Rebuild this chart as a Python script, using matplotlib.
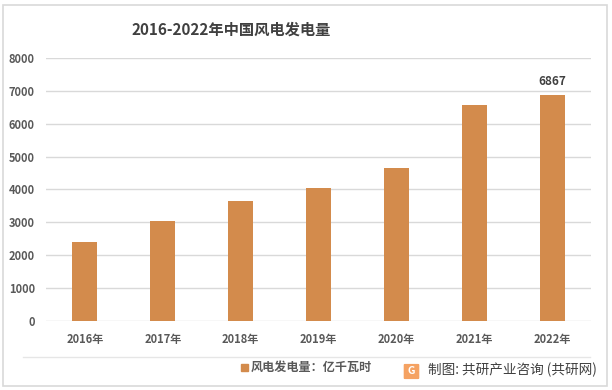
import matplotlib.pyplot as plt
from matplotlib.patches import Rectangle, FancyBboxPatch
from matplotlib.lines import Line2D

plt.rcParams['font.family'] = ['Noto Sans CJK SC', 'DejaVu Sans']

# 数据
years = ['2016年', '2017年', '2018年', '2019年', '2020年', '2021年', '2022年']
power = [2409, 3034, 3660, 4057, 4665, 6556, 6867]
yticks = [0, 1000, 2000, 3000, 4000, 5000, 6000, 7000, 8000]

bar_color = '#D38B4C'
text_color = '#595959'

W, H = 612, 390
fig = plt.figure(figsize=(W / 100, H / 100), dpi=100)
fig.patch.set_facecolor('white')

# 坐标区域(像素换算)
left, right, top, bottom = 46, 591, 58, 321
ax = fig.add_axes([left / W, 1 - bottom / H, (right - left) / W, (bottom - top) / H])

x = range(len(years))
ax.bar(x, power, width=0.32, color=bar_color, zorder=3)
ax.set_xlim(-0.5, len(years) - 0.5)
ax.set_ylim(0, 8000)
ax.set_yticks(yticks)
ax.set_xticks(list(x))
ax.set_xticklabels(years)
ax.grid(axis='y', color='#D9D9D9', linewidth=1, zorder=0)
for s in ax.spines.values():
    s.set_visible(False)
ax.tick_params(length=0)
ax.tick_params(axis='y', pad=8)
ax.tick_params(axis='x', pad=9)
for lab in ax.get_xticklabels() + ax.get_yticklabels():
    lab.set_fontsize(8)
    lab.set_fontweight('bold')
    lab.set_color(text_color)

# 最后一个柱子的数值标签
ax.annotate(f'{power[-1]}', (x[-1], power[-1]), xytext=(0, 5),
            textcoords='offset points', ha='center', va='bottom',
            fontsize=8.5, fontweight='bold', color='#404040')

# 标题
fig.text(231 / W, 1 - 30 / H, '2016-2022年中国风电发电量', ha='center', va='center',
         fontsize=11, fontweight='bold', color='#404040')

# 外框和分隔线
fig.patches.append(Rectangle((3 / W, 1 - 386 / H), 604 / W, 381 / H, transform=fig.transFigure,
                             fill=False, edgecolor='#D9D9D9', linewidth=1.2))
fig.lines.append(Line2D([23 / W, 590 / W], [1 - 357 / H, 1 - 357 / H], transform=fig.transFigure,
                        color='#E6E6E6', linewidth=1))

# 图例
fig.patches.append(Rectangle((241 / W, 1 - 371 / H), 7 / W, 7 / H, transform=fig.transFigure,
                             color=bar_color))
fig.text(251 / W, 1 - 367 / H, '风电发电量：亿千瓦时', ha='left', va='center',
         fontsize=8.7, fontweight='bold', color=text_color)

# 来源标识
fig.patches.append(FancyBboxPatch((405 / W, 1 - 378 / H), 13 / W, 13 / H, transform=fig.transFigure,
                                  boxstyle='round,pad=0.001', color='#F5A262'))
fig.text(411.5 / W, 1 - 371.5 / H, 'G', ha='center', va='center', fontsize=7.5,
         fontweight='bold', color='white')
fig.text(428 / W, 1 - 370 / H, '制图: 共研产业咨询 (共研网)', ha='left', va='center',
         fontsize=9.8, color='#404040')

fig.savefig('out.png', dpi=100)
